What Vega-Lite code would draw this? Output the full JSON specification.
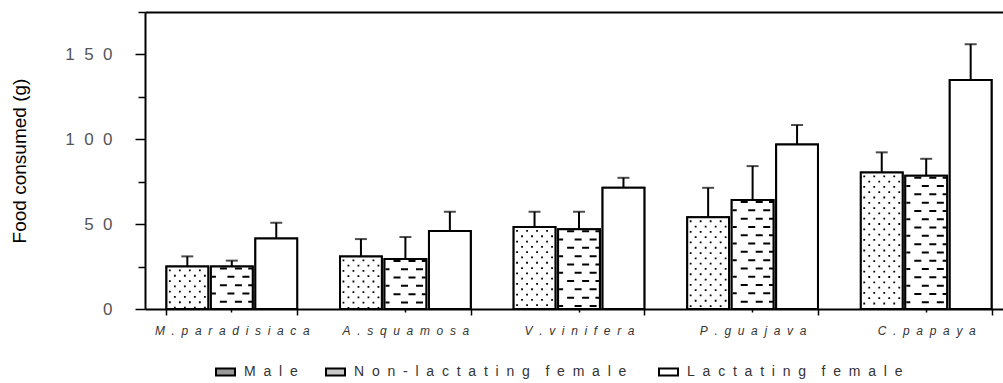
{
  "$schema": "https://vega.github.io/schema/vega-lite/v6.json",
  "width": 858,
  "height": 297,
  "autosize": {"type": "none"},
  "padding": {"left": 145, "top": 12, "right": 0, "bottom": 74},
  "config": {"view": {"stroke": null}, "font": "Liberation Sans"},
  "data": {
    "values": [
      {"fruit": "M. paradisiaca", "group": "Male", "food": 25, "upper": 31},
      {"fruit": "M. paradisiaca", "group": "Non-lactating female", "food": 25, "upper": 28.5},
      {"fruit": "M. paradisiaca", "group": "Lactating female", "food": 41.5, "upper": 50.8},
      {"fruit": "A. squamosa", "group": "Male", "food": 31, "upper": 41.2},
      {"fruit": "A. squamosa", "group": "Non-lactating female", "food": 29.5, "upper": 42.4},
      {"fruit": "A. squamosa", "group": "Lactating female", "food": 46, "upper": 57.3},
      {"fruit": "V. vinifera", "group": "Male", "food": 48.3, "upper": 57.3},
      {"fruit": "V. vinifera", "group": "Non-lactating female", "food": 47, "upper": 57.3},
      {"fruit": "V. vinifera", "group": "Lactating female", "food": 71.5, "upper": 77.3},
      {"fruit": "P. guajava", "group": "Male", "food": 54, "upper": 71.4},
      {"fruit": "P. guajava", "group": "Non-lactating female", "food": 64.2, "upper": 84.2},
      {"fruit": "P. guajava", "group": "Lactating female", "food": 97, "upper": 108.4},
      {"fruit": "C. papaya", "group": "Male", "food": 80.5, "upper": 92.3},
      {"fruit": "C. papaya", "group": "Non-lactating female", "food": 78.5, "upper": 88.5},
      {"fruit": "C. papaya", "group": "Lactating female", "food": 135, "upper": 156}
    ]
  },
  "encoding": {
    "x": {"field": "fruit", "type": "nominal", "sort": null,
      "scale": {"type": "band", "range": [0, 868], "paddingInner": 0.247, "paddingOuter": 0.1235},
      "axis": null}
  },
  "resolve": {"axis": {"x": "independent", "y": "independent"}},
  "layer": [
    {
      "mark": {"type": "bar", "stroke": "#000", "strokeWidth": 2},
      "encoding": {
        "x": {"field": "fruit", "type": "nominal", "sort": null,
          "scale": {"type": "band", "range": [0, 868], "paddingInner": 0.247, "paddingOuter": 0.1235},
          "axis": {"title": null, "orient": "bottom", "tickBand": "extent", "tickSize": 6, "tickWidth": 1.5,
            "tickColor": "#000", "domainColor": "#000", "domainWidth": 2, "grid": false,
            "labelFontSize": 12, "labelFontStyle": "italic", "labelColor": "#333", "labelPadding": 10,
            "labelAngle": 0, "labelOverlap": false, "labelLimit": 300,
            "labelExpr": "join(split(replace(datum.label, ' ', ''), ''), '\u00a0 ')"}},
        "xOffset": {"field": "group", "type": "nominal",
          "scale": {"domain": ["Male", "Non-lactating female", "Lactating female"], "paddingInner": 0.06, "paddingOuter": 0}},
        "y": {"field": "food", "type": "quantitative",
          "scale": {"domain": [0, 175], "nice": false, "zero": true},
          "axis": {"title": "Food consumed (g)", "orient": "left", "values": [0, 50, 100, 150],
            "tickSize": 10, "tickWidth": 1.5, "tickColor": "#000", "domainColor": "#000", "domainWidth": 2, "grid": false,
            "labelExpr": "join(split(datum.label, ''), '\u00a0 ')",
            "labelFontSize": 17, "labelColor": "#555", "labelPadding": 23,
            "titleFontSize": 19, "titleFontWeight": "normal", "titleColor": "#000", "titlePadding": 35}},
        "fill": {"field": "group", "type": "nominal",
          "scale": {"domain": ["Male", "Non-lactating female", "Lactating female"], "range": ["#9a9a9a", "#c8c8c8", "#ffffff"]},
          "legend": {"title": null, "orient": "none", "legendX": 70, "legendY": 349, "direction": "horizontal",
            "columns": 3, "columnPadding": 24, "symbolType": "M-1,-0.37H1V0.37H-1Z", "symbolSize": 361,
            "symbolStrokeColor": "#000", "symbolStrokeWidth": 2, "labelFontSize": 14, "labelColor": "#333",
            "labelOffset": 8, "labelLimit": 400, "labelExpr": "join(split(datum.label, ''), '\u00a0 ')"}}
      }
    },
    {
      "mark": {"type": "bar", "fill": "#ffffff"},
      "encoding": {
        "xOffset": {"field": "group", "type": "nominal", "scale": {"domain": ["Male", "Non-lactating female", "Lactating female"]}},
        "y": {"field": "food", "type": "quantitative", "axis": null}
      }
    },
    {
      "mark": {"type": "rule", "strokeWidth": 2, "color": "#000"},
      "encoding": {
        "x": {"field": "fruit", "type": "nominal", "sort": null,
          "scale": {"type": "band", "range": [0, 868], "paddingInner": 0.247, "paddingOuter": 0.1235},
          "axis": {"title": null, "orient": "bottom", "domain": false, "labels": false, "ticks": true,
            "tickSize": 3, "tickWidth": 1.5, "tickColor": "#000", "grid": false}},
        "xOffset": {"field": "group", "type": "nominal", "scale": {"domain": ["Male", "Non-lactating female", "Lactating female"]}},
        "y": {"field": "food", "type": "quantitative",
          "axis": {"title": null, "orient": "left", "values": [25, 75, 125, 175], "domain": false, "labels": false,
            "ticks": true, "tickSize": 7, "tickWidth": 1.5, "tickColor": "#000", "grid": false}},
        "y2": {"field": "upper"}
      }
    },
    {
      "mark": {"type": "tick", "size": 12, "thickness": 2, "color": "#000"},
      "encoding": {
        "x": {"field": "fruit", "type": "nominal", "sort": null,
          "scale": {"type": "band", "range": [0, 868], "paddingInner": 0.247, "paddingOuter": 0.1235},
          "axis": {"title": null, "orient": "top", "domain": true, "domainWidth": 2, "domainColor": "#000",
            "ticks": false, "labels": false, "grid": false}},
        "xOffset": {"field": "group", "type": "nominal", "scale": {"domain": ["Male", "Non-lactating female", "Lactating female"]}},
        "y": {"field": "upper", "type": "quantitative", "axis": null}
      }
    },
    {"transform": [{"filter": "datum.group === 'Male'"}],
     "mark": {"type": "rule", "color": "#000", "strokeWidth": 1.8, "strokeDash": [1.8, 8.8], "strokeDashOffset": 7.6},
     "encoding": {"x": {"field": "fruit", "type": "nominal", "sort": null, "bandPosition": 0.026, "axis": null},
       "y": {"field": "food", "type": "quantitative", "axis": null}, "y2": {"datum": 0}}},
    {"transform": [{"filter": "datum.group === 'Male'"}],
     "mark": {"type": "rule", "color": "#000", "strokeWidth": 1.8, "strokeDash": [1.8, 8.8], "strokeDashOffset": 2.3},
     "encoding": {"x": {"field": "fruit", "type": "nominal", "sort": null, "bandPosition": 0.0643, "axis": null},
       "y": {"field": "food", "type": "quantitative", "axis": null}, "y2": {"datum": 0}}},
    {"transform": [{"filter": "datum.group === 'Male'"}],
     "mark": {"type": "rule", "color": "#000", "strokeWidth": 1.8, "strokeDash": [1.8, 8.8], "strokeDashOffset": 7.6},
     "encoding": {"x": {"field": "fruit", "type": "nominal", "sort": null, "bandPosition": 0.1025, "axis": null},
       "y": {"field": "food", "type": "quantitative", "axis": null}, "y2": {"datum": 0}}},
    {"transform": [{"filter": "datum.group === 'Male'"}],
     "mark": {"type": "rule", "color": "#000", "strokeWidth": 1.8, "strokeDash": [1.8, 8.8], "strokeDashOffset": 2.3},
     "encoding": {"x": {"field": "fruit", "type": "nominal", "sort": null, "bandPosition": 0.1408, "axis": null},
       "y": {"field": "food", "type": "quantitative", "axis": null}, "y2": {"datum": 0}}},
    {"transform": [{"filter": "datum.group === 'Male'"}],
     "mark": {"type": "rule", "color": "#000", "strokeWidth": 1.8, "strokeDash": [1.8, 8.8], "strokeDashOffset": 7.6},
     "encoding": {"x": {"field": "fruit", "type": "nominal", "sort": null, "bandPosition": 0.179, "axis": null},
       "y": {"field": "food", "type": "quantitative", "axis": null}, "y2": {"datum": 0}}},
    {"transform": [{"filter": "datum.group === 'Male'"}],
     "mark": {"type": "rule", "color": "#000", "strokeWidth": 1.8, "strokeDash": [1.8, 8.8], "strokeDashOffset": 2.3},
     "encoding": {"x": {"field": "fruit", "type": "nominal", "sort": null, "bandPosition": 0.2173, "axis": null},
       "y": {"field": "food", "type": "quantitative", "axis": null}, "y2": {"datum": 0}}},
    {"transform": [{"filter": "datum.group === 'Male'"}],
     "mark": {"type": "rule", "color": "#000", "strokeWidth": 1.8, "strokeDash": [1.8, 8.8], "strokeDashOffset": 7.6},
     "encoding": {"x": {"field": "fruit", "type": "nominal", "sort": null, "bandPosition": 0.2555, "axis": null},
       "y": {"field": "food", "type": "quantitative", "axis": null}, "y2": {"datum": 0}}},
    {"transform": [{"filter": "datum.group === 'Male'"}],
     "mark": {"type": "rule", "color": "#000", "strokeWidth": 1.8, "strokeDash": [1.8, 8.8], "strokeDashOffset": 2.3},
     "encoding": {"x": {"field": "fruit", "type": "nominal", "sort": null, "bandPosition": 0.2938, "axis": null},
       "y": {"field": "food", "type": "quantitative", "axis": null}, "y2": {"datum": 0}}},
    {"transform": [{"filter": "datum.group === 'Non-lactating female'"}],
     "mark": {"type": "rule", "color": "#000", "strokeWidth": 4, "strokeDash": [2, 14.6], "strokeDashOffset": 7.3},
     "encoding": {"x": {"field": "fruit", "type": "nominal", "sort": null, "bandPosition": 0.3631, "axis": null},
       "y": {"field": "food", "type": "quantitative", "axis": null}, "y2": {"datum": 0}}},
    {"transform": [{"filter": "datum.group === 'Non-lactating female'"}],
     "mark": {"type": "rule", "color": "#000", "strokeWidth": 7, "strokeDash": [2, 14.6], "strokeDashOffset": 7.3},
     "encoding": {"x": {"field": "fruit", "type": "nominal", "sort": null, "bandPosition": 0.4932, "axis": null},
       "y": {"field": "food", "type": "quantitative", "axis": null}, "y2": {"datum": 0}}},
    {"transform": [{"filter": "datum.group === 'Non-lactating female'"}],
     "mark": {"type": "rule", "color": "#000", "strokeWidth": 7, "strokeDash": [2, 14.6], "strokeDashOffset": 7.3},
     "encoding": {"x": {"field": "fruit", "type": "nominal", "sort": null, "bandPosition": 0.608, "axis": null},
       "y": {"field": "food", "type": "quantitative", "axis": null}, "y2": {"datum": 0}}},
    {"transform": [{"filter": "datum.group === 'Non-lactating female'"}],
     "mark": {"type": "rule", "color": "#000", "strokeWidth": 7, "strokeDash": [2, 14.6], "strokeDashOffset": 15.6},
     "encoding": {"x": {"field": "fruit", "type": "nominal", "sort": null, "bandPosition": 0.4358, "axis": null},
       "y": {"field": "food", "type": "quantitative", "axis": null}, "y2": {"datum": 0}}},
    {"transform": [{"filter": "datum.group === 'Non-lactating female'"}],
     "mark": {"type": "rule", "color": "#000", "strokeWidth": 7, "strokeDash": [2, 14.6], "strokeDashOffset": 15.6},
     "encoding": {"x": {"field": "fruit", "type": "nominal", "sort": null, "bandPosition": 0.5506, "axis": null},
       "y": {"field": "food", "type": "quantitative", "axis": null}, "y2": {"datum": 0}}},
    {"transform": [{"filter": "datum.group === 'Non-lactating female'"}],
     "mark": {"type": "rule", "color": "#000", "strokeWidth": 4, "strokeDash": [2, 14.6], "strokeDashOffset": 15.6},
     "encoding": {"x": {"field": "fruit", "type": "nominal", "sort": null, "bandPosition": 0.6409, "axis": null},
       "y": {"field": "food", "type": "quantitative", "axis": null}, "y2": {"datum": 0}}},
    {
      "mark": {"type": "bar", "fill": "transparent", "stroke": "#000", "strokeWidth": 2},
      "encoding": {
        "xOffset": {"field": "group", "type": "nominal", "scale": {"domain": ["Male", "Non-lactating female", "Lactating female"]}},
        "y": {"field": "food", "type": "quantitative", "axis": null}
      }
    }
  ]
}
